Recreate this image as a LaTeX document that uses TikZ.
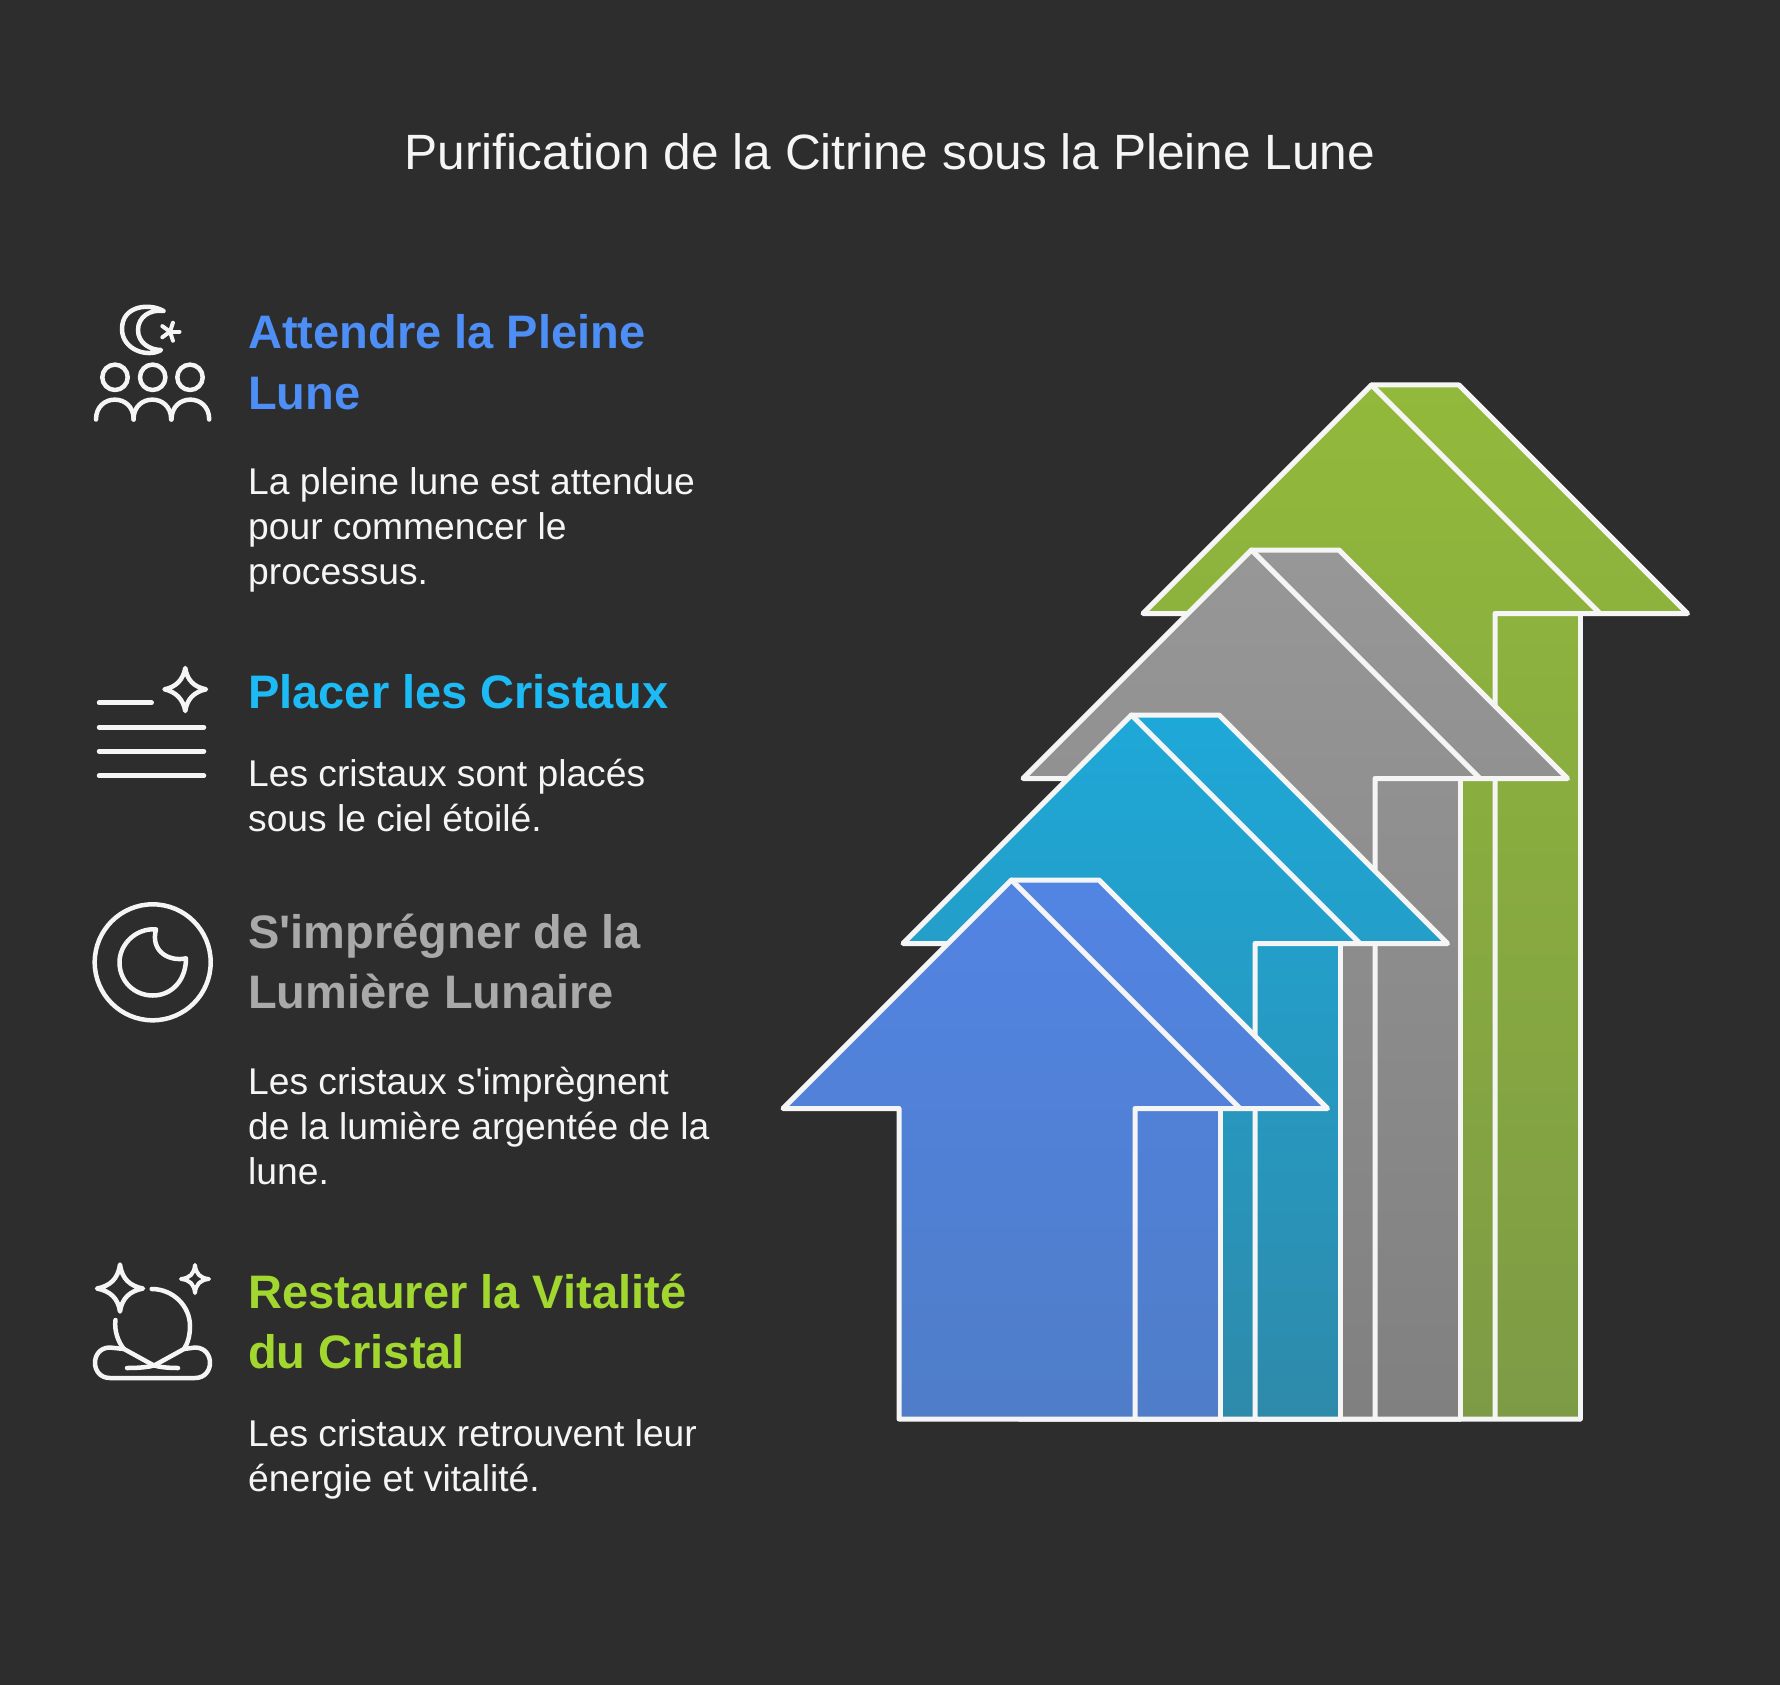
\documentclass[tikz,border=0pt]{standalone}
\usepackage{fontspec}
\setmainfont[Ligatures=TeXOff]{Liberation Sans}
\begin{document}
\begin{tikzpicture}[x=1pt,y=-1pt,
  heading/.style={anchor=base west,inner sep=0pt,font=\fontsize{47}{47}\selectfont\bfseries},
  body/.style={anchor=base west,inner sep=0pt,text=txt,font=\fontsize{37.2}{37.2}\selectfont},
  ico/.style={draw=txt,line width=4.5pt,line cap=round,line join=round},
  outl/.style={draw=txt,line width=5pt,line join=round,line cap=round}]
\definecolor{bg}{HTML}{2D2D2D}
\definecolor{txt}{HTML}{F5F5F5}
\definecolor{hblue}{HTML}{4D8FF7}
\definecolor{hcyan}{HTML}{1DBBF5}
\definecolor{hgray}{HTML}{A9A9A9}
\definecolor{hgreen}{HTML}{A2D72F}
\useasboundingbox (0,0) rectangle (1780,1685);
\fill[bg] (0,0) rectangle (1780,1685);
\node[anchor=base,inner sep=0pt,text=txt,font=\fontsize{49.6}{49.6}\selectfont] (title) at (890,170) {Purification de la Citrine sous la Pleine Lune};
% arrows
\foreach \dx/\dy/\bt/\ctop/\cbot in {360/-495/1914/92B93B/7D9B45,240/-330/1749/979797/808080,120/-165/1584/1EA8D8/2E8AAA,0/0/1419/5284E3/4F7DC8}{
  \definecolor{ct}{HTML}{\ctop}\definecolor{cb}{HTML}{\cbot}
  \begin{scope}[shift={(\dx,\dy)}]
  \path[top color=ct,bottom color=cb] (783,1108.5) -- (1011.5,880) -- (1099,880) -- (1327.5,1108.5) -- (1220,1108.5) -- (1220,\bt) -- (899,\bt) -- (899,1108.5) -- cycle;
  \draw[outl] (1220,\bt) -- (899,\bt) -- (899,1108.5) -- (783,1108.5) -- (1011.5,880) -- (1099,880) -- (1327.5,1108.5) -- (1135,1108.5) -- (1135,\bt);
  \draw[outl] (1011.5,880) -- (1240,1108.5);
  \draw[outl] (1220,1108.5) -- (1220,\bt);
  \end{scope}
}
% headings
\node[heading,text=hblue] (h1a) at (248,349) {Attendre la Pleine};
\node[heading,text=hblue] (h1b) at (248,409) {Lune};
\node[heading,text=hcyan] (h2a) at (248,708) {Placer les Cristaux};
\node[heading,text=hgray] (h3a) at (248,948) {S'imprégner de la};
\node[heading,text=hgray] (h3b) at (248,1008) {Lumière Lunaire};
\node[heading,text=hgreen] (h4a) at (248,1308) {Restaurer la Vitalité};
\node[heading,text=hgreen] (h4b) at (248,1368) {du Cristal};
% body
\node[body] (b1a) at (248,494) {La pleine lune est attendue};
\node[body] (b1b) at (248,539) {pour commencer le};
\node[body] (b1c) at (248,584) {processus.};
\node[body] (b2a) at (248,786) {Les cristaux sont placés};
\node[body] (b2b) at (248,831) {sous le ciel étoilé.};
\node[body] (b3a) at (248,1094) {Les cristaux s'imprègnent};
\node[body] (b3b) at (248,1139) {de la lumière argentée de la};
\node[body] (b3c) at (248,1184) {lune.};
\node[body] (b4a) at (248,1446) {Les cristaux retrouvent leur};
\node[body] (b4b) at (248,1491) {énergie et vitalité.};
% icon 1
\draw[ico] (163.5,311) .. controls (150,303) and (122,305) .. (122,329) .. controls (122,350) and (148,358) .. (161,350) .. controls (150,350) and (138,343) .. (138,330) .. controls (138,317) and (150,309) .. (163.5,311);
\foreach \a in {-72,0,72,144,216}{
  \draw[ico,line width=4pt] (170,331.7) -- ++(\a:9.5);
}
\foreach \cx in {115,152.7,190}{\draw[ico] (\cx,377.3) circle (12.7);}
\foreach \cx in {96,133.5,171.5}{\draw[ico] (\cx,419.5) .. controls (\cx,393) and (\cx+37.7,393) .. (\cx+37.7,419.5);}
% icon 2
\draw[ico] (99,702.7) -- (151.7,702.7);
\draw[ico] (99,727.3) -- (204,727.3);
\draw[ico] (99,751.3) -- (204,751.3);
\draw[ico] (99,775.7) -- (204,775.7);
\draw[ico] (185.3,668) .. controls (187,680) and (194,687) .. (206,689.3) .. controls (194,692) and (187,699) .. (185.3,711) .. controls (183,699) and (176,692) .. (164.5,689.3) .. controls (176,687) and (183,680) .. (185.3,668) -- cycle;
% icon 3
\draw[ico] (152.7,962.3) circle (58);
\draw[ico] (156,929.3) .. controls (135,928) and (119.5,945) .. (119.5,962.3) .. controls (119.5,982) and (135,995.5) .. (152.7,995.5) .. controls (172,995.5) and (186,980) .. (186,958.3) .. controls (170,962) and (150,952) .. (156,929.3) -- cycle;
% icon 4
\draw[ico] (120,1264.5) .. controls (122,1279) and (130,1286) .. (143,1288.5) .. controls (130,1291) and (122,1298) .. (120,1311.5) .. controls (118,1298) and (110,1291) .. (97,1288.5) .. controls (110,1286) and (118,1279) .. (120,1264.5) -- cycle;
\draw[ico,line width=4pt] (195,1265) .. controls (196,1274) and (200,1278) .. (209,1279) .. controls (200,1280) and (196,1284) .. (195,1293) .. controls (194,1284) and (190,1280) .. (181,1279) .. controls (190,1278) and (194,1274) .. (195,1265) -- cycle;
\draw[ico] (151.7,1289) .. controls (173,1289) and (190,1306) .. (190,1326) .. controls (190,1335) and (188,1343) .. (184,1349) -- (155,1365) .. controls (150,1367) and (140,1368) .. (127,1368);
\draw[ico] (115.5,1320) .. controls (114,1330) and (118,1342) .. (124,1349) -- (153,1365) .. controls (158,1367) and (168,1368) .. (178,1368);
\draw[ico] (124,1349) -- (110,1347.5) .. controls (90,1347.5) and (90,1378) .. (110,1378) -- (195,1378) .. controls (215,1378) and (215,1347.5) .. (195,1347.5) -- (184,1349);
\end{tikzpicture}
\end{document}
